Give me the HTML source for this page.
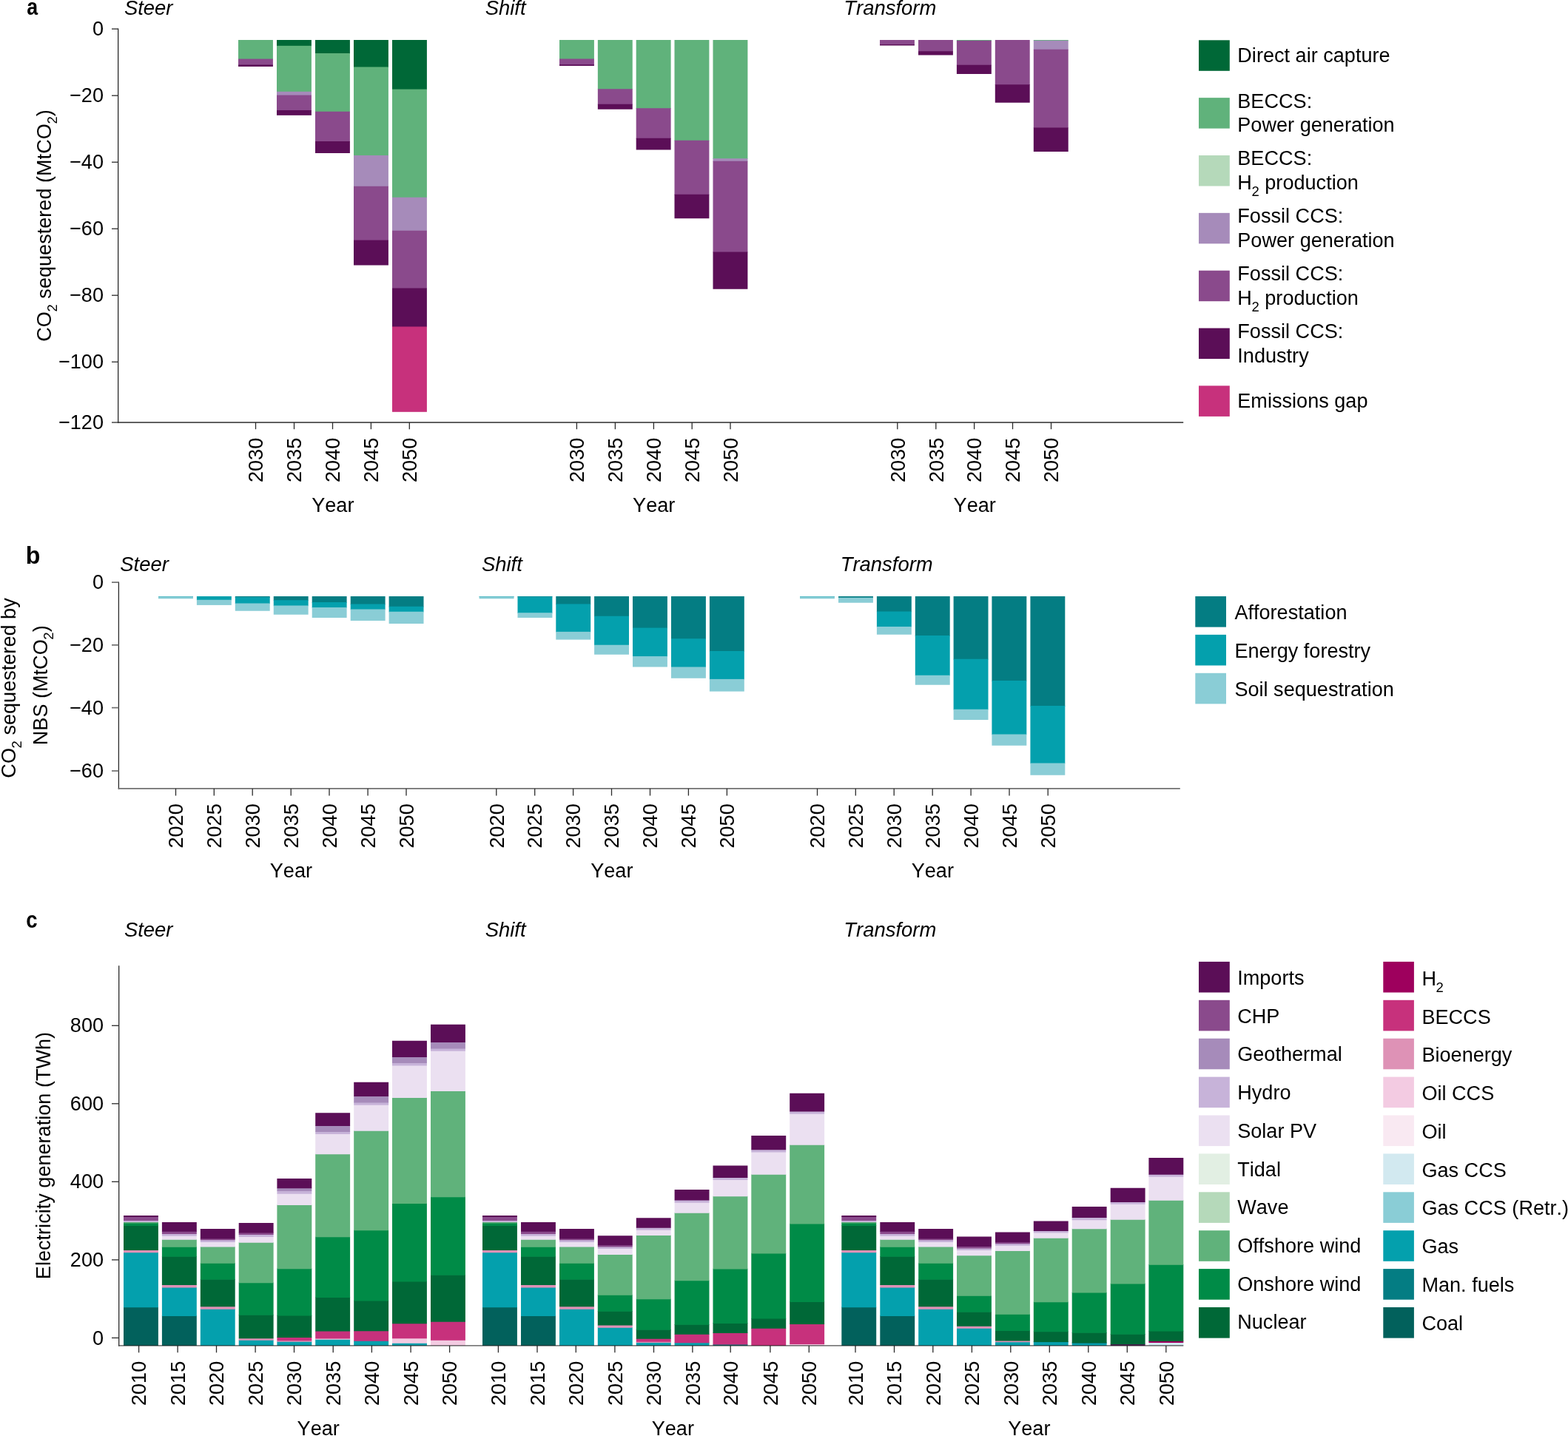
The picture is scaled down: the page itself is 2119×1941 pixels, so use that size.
<!DOCTYPE html>
<html lang="en">
<head>
<meta charset="utf-8">
<title>CO2 sequestration and electricity generation by scenario</title>
<style>
html,body{margin:0;padding:0;background:#fff;}
body{width:2119px;height:1941px;overflow:hidden;}
svg{display:block;}
text{font-family:"Liberation Sans", Arial, Helvetica, sans-serif;font-size:27.1px;fill:#000;font-kerning:none;}
.i{font-style:italic;font-size:27.45px;}
.b{font-weight:bold;}
</style>
</head>
<body>
<svg width="2119" height="1941" viewBox="0 0 2119 1941">
<rect x="0" y="0" width="2119" height="1941" fill="#ffffff"/>
<line x1="159.65" y1="38.45" x2="159.65" y2="571.65" stroke="#2b2b2b" stroke-width="1.3"/>
<line x1="159.00" y1="571.00" x2="1599.20" y2="571.00" stroke="#2b2b2b" stroke-width="1.3"/>
<line x1="151.00" y1="39.10" x2="159.65" y2="39.10" stroke="#2b2b2b" stroke-width="1.3"/>
<text transform="translate(140.00 48.20) scale(1 1.04)" text-anchor="end">0</text>
<line x1="151.00" y1="129.20" x2="159.65" y2="129.20" stroke="#2b2b2b" stroke-width="1.3"/>
<text transform="translate(140.00 138.30) scale(1 1.04)" text-anchor="end">−20</text>
<line x1="151.00" y1="219.20" x2="159.65" y2="219.20" stroke="#2b2b2b" stroke-width="1.3"/>
<text transform="translate(140.00 228.30) scale(1 1.04)" text-anchor="end">−40</text>
<line x1="151.00" y1="309.20" x2="159.65" y2="309.20" stroke="#2b2b2b" stroke-width="1.3"/>
<text transform="translate(140.00 318.30) scale(1 1.04)" text-anchor="end">−60</text>
<line x1="151.00" y1="399.20" x2="159.65" y2="399.20" stroke="#2b2b2b" stroke-width="1.3"/>
<text transform="translate(140.00 408.30) scale(1 1.04)" text-anchor="end">−80</text>
<line x1="151.00" y1="489.20" x2="159.65" y2="489.20" stroke="#2b2b2b" stroke-width="1.3"/>
<text transform="translate(140.00 498.30) scale(1 1.04)" text-anchor="end">−100</text>
<line x1="151.00" y1="571.00" x2="159.65" y2="571.00" stroke="#2b2b2b" stroke-width="1.3"/>
<text transform="translate(140.00 580.10) scale(1 1.04)" text-anchor="end">−120</text>
<text transform="translate(36.30 19.90) scale(0.85 1)" style="font-weight:bold;font-size:31.5px">a</text>
<text transform="translate(167.90 20.20) scale(1 1.025)" class="i">Steer</text>
<text transform="translate(655.70 20.20) scale(1 1.025)" class="i">Shift</text>
<text transform="translate(1140.30 20.20) scale(1 1.025)" class="i">Transform</text>
<text transform="translate(68.50 305.00) rotate(-90) scale(1 1.025)" text-anchor="middle">CO<tspan style="font-size:18.5px" dx="-0.4" dy="7.9">2</tspan><tspan dy="-7.9"> sequestered (MtCO</tspan><tspan style="font-size:18.5px" dx="-0.4" dy="7.9">2</tspan><tspan dy="-7.9">)</tspan></text>
<rect x="322.00" y="54.00" width="46.90" height="26.30" fill="#60B27B"/>
<rect x="322.00" y="79.60" width="46.90" height="8.60" fill="#8A4A8C"/>
<rect x="322.00" y="87.50" width="46.90" height="2.50" fill="#5B0E57"/>
<rect x="374.00" y="54.00" width="46.90" height="8.55" fill="#006837"/>
<rect x="374.00" y="61.85" width="46.90" height="62.65" fill="#60B27B"/>
<rect x="374.00" y="123.80" width="46.90" height="5.50" fill="#A68BBA"/>
<rect x="374.00" y="128.60" width="46.90" height="21.10" fill="#8A4A8C"/>
<rect x="374.00" y="149.00" width="46.90" height="6.85" fill="#5B0E57"/>
<rect x="426.00" y="54.00" width="46.90" height="18.70" fill="#006837"/>
<rect x="426.00" y="72.00" width="46.90" height="79.45" fill="#60B27B"/>
<rect x="426.00" y="150.75" width="46.90" height="40.95" fill="#8A4A8C"/>
<rect x="426.00" y="191.00" width="46.90" height="16.00" fill="#5B0E57"/>
<rect x="478.00" y="54.00" width="46.90" height="37.20" fill="#006837"/>
<rect x="478.00" y="90.50" width="46.90" height="120.20" fill="#60B27B"/>
<rect x="478.00" y="210.00" width="46.90" height="42.45" fill="#A68BBA"/>
<rect x="478.00" y="251.75" width="46.90" height="73.55" fill="#8A4A8C"/>
<rect x="478.00" y="324.60" width="46.90" height="33.90" fill="#5B0E57"/>
<rect x="530.00" y="54.00" width="46.90" height="67.30" fill="#006837"/>
<rect x="530.00" y="120.60" width="46.90" height="146.85" fill="#60B27B"/>
<rect x="530.00" y="266.75" width="46.90" height="45.70" fill="#A68BBA"/>
<rect x="530.00" y="311.75" width="46.90" height="78.45" fill="#8A4A8C"/>
<rect x="530.00" y="389.50" width="46.90" height="52.70" fill="#5B0E57"/>
<rect x="530.00" y="441.50" width="46.90" height="115.30" fill="#C7317C"/>
<line x1="345.50" y1="571.00" x2="345.50" y2="580.20" stroke="#2b2b2b" stroke-width="1.3"/>
<text transform="translate(355.20 652.00) rotate(-90) scale(1 1.04)">2030</text>
<line x1="397.50" y1="571.00" x2="397.50" y2="580.20" stroke="#2b2b2b" stroke-width="1.3"/>
<text transform="translate(407.20 652.00) rotate(-90) scale(1 1.04)">2035</text>
<line x1="449.50" y1="571.00" x2="449.50" y2="580.20" stroke="#2b2b2b" stroke-width="1.3"/>
<text transform="translate(459.20 652.00) rotate(-90) scale(1 1.04)">2040</text>
<line x1="501.40" y1="571.00" x2="501.40" y2="580.20" stroke="#2b2b2b" stroke-width="1.3"/>
<text transform="translate(511.10 652.00) rotate(-90) scale(1 1.04)">2045</text>
<line x1="553.30" y1="571.00" x2="553.30" y2="580.20" stroke="#2b2b2b" stroke-width="1.3"/>
<text transform="translate(563.00 652.00) rotate(-90) scale(1 1.04)">2050</text>
<text transform="translate(449.80 691.60) scale(1 1.025)" text-anchor="middle">Year</text>
<rect x="756.00" y="54.00" width="46.90" height="26.20" fill="#60B27B"/>
<rect x="756.00" y="79.50" width="46.90" height="8.45" fill="#8A4A8C"/>
<rect x="756.00" y="87.25" width="46.90" height="1.75" fill="#5B0E57"/>
<rect x="807.85" y="54.00" width="46.90" height="66.95" fill="#60B27B"/>
<rect x="807.85" y="120.25" width="46.90" height="21.20" fill="#8A4A8C"/>
<rect x="807.85" y="140.75" width="46.90" height="7.00" fill="#5B0E57"/>
<rect x="859.70" y="54.00" width="46.90" height="92.95" fill="#60B27B"/>
<rect x="859.70" y="146.25" width="46.90" height="41.20" fill="#8A4A8C"/>
<rect x="859.70" y="186.75" width="46.90" height="15.75" fill="#5B0E57"/>
<rect x="911.50" y="54.00" width="46.90" height="136.45" fill="#60B27B"/>
<rect x="911.50" y="189.75" width="46.90" height="73.70" fill="#8A4A8C"/>
<rect x="911.50" y="262.75" width="46.90" height="32.50" fill="#5B0E57"/>
<rect x="963.50" y="54.00" width="46.90" height="160.95" fill="#60B27B"/>
<rect x="963.50" y="214.25" width="46.90" height="4.20" fill="#A68BBA"/>
<rect x="963.50" y="217.75" width="46.90" height="123.45" fill="#8A4A8C"/>
<rect x="963.50" y="340.50" width="46.90" height="50.25" fill="#5B0E57"/>
<line x1="779.40" y1="571.00" x2="779.40" y2="580.20" stroke="#2b2b2b" stroke-width="1.3"/>
<text transform="translate(789.10 652.00) rotate(-90) scale(1 1.04)">2030</text>
<line x1="831.40" y1="571.00" x2="831.40" y2="580.20" stroke="#2b2b2b" stroke-width="1.3"/>
<text transform="translate(841.10 652.00) rotate(-90) scale(1 1.04)">2035</text>
<line x1="883.40" y1="571.00" x2="883.40" y2="580.20" stroke="#2b2b2b" stroke-width="1.3"/>
<text transform="translate(893.10 652.00) rotate(-90) scale(1 1.04)">2040</text>
<line x1="935.20" y1="571.00" x2="935.20" y2="580.20" stroke="#2b2b2b" stroke-width="1.3"/>
<text transform="translate(944.90 652.00) rotate(-90) scale(1 1.04)">2045</text>
<line x1="987.00" y1="571.00" x2="987.00" y2="580.20" stroke="#2b2b2b" stroke-width="1.3"/>
<text transform="translate(996.70 652.00) rotate(-90) scale(1 1.04)">2050</text>
<text transform="translate(883.70 691.60) scale(1 1.025)" text-anchor="middle">Year</text>
<rect x="1189.00" y="54.00" width="46.90" height="6.70" fill="#8A4A8C"/>
<rect x="1189.00" y="60.00" width="46.90" height="1.50" fill="#5B0E57"/>
<rect x="1241.00" y="54.00" width="46.90" height="15.95" fill="#8A4A8C"/>
<rect x="1241.00" y="69.25" width="46.90" height="5.25" fill="#5B0E57"/>
<rect x="1292.90" y="54.00" width="46.90" height="1.50" fill="#60B27B"/>
<rect x="1292.90" y="54.80" width="46.90" height="33.65" fill="#8A4A8C"/>
<rect x="1292.90" y="87.75" width="46.90" height="12.25" fill="#5B0E57"/>
<rect x="1344.80" y="54.00" width="46.90" height="60.95" fill="#8A4A8C"/>
<rect x="1344.80" y="114.25" width="46.90" height="24.50" fill="#5B0E57"/>
<rect x="1396.80" y="54.00" width="46.90" height="1.50" fill="#60B27B"/>
<rect x="1396.80" y="54.80" width="46.90" height="12.65" fill="#A68BBA"/>
<rect x="1396.80" y="66.75" width="46.90" height="106.45" fill="#8A4A8C"/>
<rect x="1396.80" y="172.50" width="46.90" height="32.50" fill="#5B0E57"/>
<line x1="1212.80" y1="571.00" x2="1212.80" y2="580.20" stroke="#2b2b2b" stroke-width="1.3"/>
<text transform="translate(1222.50 652.00) rotate(-90) scale(1 1.04)">2030</text>
<line x1="1264.80" y1="571.00" x2="1264.80" y2="580.20" stroke="#2b2b2b" stroke-width="1.3"/>
<text transform="translate(1274.50 652.00) rotate(-90) scale(1 1.04)">2035</text>
<line x1="1316.60" y1="571.00" x2="1316.60" y2="580.20" stroke="#2b2b2b" stroke-width="1.3"/>
<text transform="translate(1326.30 652.00) rotate(-90) scale(1 1.04)">2040</text>
<line x1="1368.50" y1="571.00" x2="1368.50" y2="580.20" stroke="#2b2b2b" stroke-width="1.3"/>
<text transform="translate(1378.20 652.00) rotate(-90) scale(1 1.04)">2045</text>
<line x1="1420.50" y1="571.00" x2="1420.50" y2="580.20" stroke="#2b2b2b" stroke-width="1.3"/>
<text transform="translate(1430.20 652.00) rotate(-90) scale(1 1.04)">2050</text>
<text transform="translate(1317.20 691.60) scale(1 1.025)" text-anchor="middle">Year</text>
<rect x="1620.00" y="54.30" width="41.80" height="41.50" fill="#006837"/>
<text transform="translate(1672.30 83.90) scale(1 1.025)">Direct air capture</text>
<rect x="1620.00" y="132.15" width="41.80" height="41.50" fill="#60B27B"/>
<text transform="translate(1672.30 145.55) scale(1 1.025)">BECCS:</text>
<text transform="translate(1672.30 178.25) scale(1 1.025)">Power generation</text>
<rect x="1620.00" y="210.00" width="41.80" height="41.50" fill="#B5D9BA"/>
<text transform="translate(1672.30 223.40) scale(1 1.025)">BECCS:</text>
<text transform="translate(1672.30 256.10) scale(1 1.025)">H<tspan style="font-size:18.5px" dx="-0.4" dy="8.6">2</tspan><tspan dy="-8.6"> production</tspan></text>
<rect x="1620.00" y="287.85" width="41.80" height="41.50" fill="#A68BBA"/>
<text transform="translate(1672.30 301.25) scale(1 1.025)">Fossil CCS:</text>
<text transform="translate(1672.30 333.95) scale(1 1.025)">Power generation</text>
<rect x="1620.00" y="365.70" width="41.80" height="41.50" fill="#8A4A8C"/>
<text transform="translate(1672.30 379.10) scale(1 1.025)">Fossil CCS:</text>
<text transform="translate(1672.30 411.80) scale(1 1.025)">H<tspan style="font-size:18.5px" dx="-0.4" dy="8.6">2</tspan><tspan dy="-8.6"> production</tspan></text>
<rect x="1620.00" y="443.55" width="41.80" height="41.50" fill="#5B0E57"/>
<text transform="translate(1672.30 456.95) scale(1 1.025)">Fossil CCS:</text>
<text transform="translate(1672.30 489.65) scale(1 1.025)">Industry</text>
<rect x="1620.00" y="521.40" width="41.80" height="41.50" fill="#C7317C"/>
<text transform="translate(1672.30 551.00) scale(1 1.025)">Emissions gap</text>
<line x1="160.40" y1="786.45" x2="160.40" y2="1066.80" stroke="#2b2b2b" stroke-width="1.3"/>
<line x1="159.75" y1="1065.90" x2="1594.80" y2="1065.90" stroke="#707070" stroke-width="1.8"/>
<line x1="151.00" y1="787.10" x2="160.40" y2="787.10" stroke="#707070" stroke-width="1.7"/>
<text transform="translate(140.00 796.20) scale(1 1.04)" text-anchor="end">0</text>
<line x1="151.00" y1="871.85" x2="160.40" y2="871.85" stroke="#707070" stroke-width="1.7"/>
<text transform="translate(140.00 880.95) scale(1 1.04)" text-anchor="end">−20</text>
<line x1="151.00" y1="956.60" x2="160.40" y2="956.60" stroke="#707070" stroke-width="1.7"/>
<text transform="translate(140.00 965.70) scale(1 1.04)" text-anchor="end">−40</text>
<line x1="151.00" y1="1042.00" x2="160.40" y2="1042.00" stroke="#707070" stroke-width="1.7"/>
<text transform="translate(140.00 1051.10) scale(1 1.04)" text-anchor="end">−60</text>
<text transform="translate(34.80 761.70) scale(0.96 1)" style="font-weight:bold;font-size:33.5px">b</text>
<text transform="translate(162.30 772.00) scale(1 1.025)" class="i">Steer</text>
<text transform="translate(650.90 772.00) scale(1 1.025)" class="i">Shift</text>
<text transform="translate(1135.70 772.00) scale(1 1.025)" class="i">Transform</text>
<text transform="translate(20.60 930.00) rotate(-90) scale(1 1.025)" text-anchor="middle">CO<tspan style="font-size:18.5px" dx="-0.4" dy="7.9">2</tspan><tspan dy="-7.9"> sequestered by</tspan></text>
<text transform="translate(64.10 926.30) rotate(-90) scale(1 1.025)" text-anchor="middle">NBS (MtCO<tspan style="font-size:18.5px" dx="-0.4" dy="7.9">2</tspan><tspan dy="-7.9">)</tspan></text>
<rect x="214.00" y="806.00" width="46.90" height="1.05" fill="#04A0AD"/>
<rect x="214.00" y="806.35" width="46.90" height="2.95" fill="#8ACDD6"/>
<rect x="265.90" y="806.00" width="46.90" height="5.45" fill="#04A0AD"/>
<rect x="265.90" y="810.75" width="46.90" height="7.15" fill="#8ACDD6"/>
<rect x="317.80" y="806.00" width="46.90" height="1.70" fill="#047D83"/>
<rect x="317.80" y="807.00" width="46.90" height="9.20" fill="#04A0AD"/>
<rect x="317.80" y="815.50" width="46.90" height="10.25" fill="#8ACDD6"/>
<rect x="369.75" y="806.00" width="46.90" height="5.95" fill="#047D83"/>
<rect x="369.75" y="811.25" width="46.90" height="7.95" fill="#04A0AD"/>
<rect x="369.75" y="818.50" width="46.90" height="12.25" fill="#8ACDD6"/>
<rect x="421.70" y="806.00" width="46.90" height="8.70" fill="#047D83"/>
<rect x="421.70" y="814.00" width="46.90" height="7.70" fill="#04A0AD"/>
<rect x="421.70" y="821.00" width="46.90" height="14.00" fill="#8ACDD6"/>
<rect x="473.70" y="806.00" width="46.90" height="11.20" fill="#047D83"/>
<rect x="473.70" y="816.50" width="46.90" height="7.70" fill="#04A0AD"/>
<rect x="473.70" y="823.50" width="46.90" height="15.50" fill="#8ACDD6"/>
<rect x="525.60" y="806.00" width="46.90" height="14.45" fill="#047D83"/>
<rect x="525.60" y="819.75" width="46.90" height="7.70" fill="#04A0AD"/>
<rect x="525.60" y="826.75" width="46.90" height="16.25" fill="#8ACDD6"/>
<line x1="237.50" y1="1065.90" x2="237.50" y2="1075.50" stroke="#2b2b2b" stroke-width="1.3"/>
<text transform="translate(247.20 1146.50) rotate(-90) scale(1 1.04)">2020</text>
<line x1="289.30" y1="1065.90" x2="289.30" y2="1075.50" stroke="#2b2b2b" stroke-width="1.3"/>
<text transform="translate(299.00 1146.50) rotate(-90) scale(1 1.04)">2025</text>
<line x1="341.20" y1="1065.90" x2="341.20" y2="1075.50" stroke="#2b2b2b" stroke-width="1.3"/>
<text transform="translate(350.90 1146.50) rotate(-90) scale(1 1.04)">2030</text>
<line x1="393.20" y1="1065.90" x2="393.20" y2="1075.50" stroke="#2b2b2b" stroke-width="1.3"/>
<text transform="translate(402.90 1146.50) rotate(-90) scale(1 1.04)">2035</text>
<line x1="445.00" y1="1065.90" x2="445.00" y2="1075.50" stroke="#2b2b2b" stroke-width="1.3"/>
<text transform="translate(454.70 1146.50) rotate(-90) scale(1 1.04)">2040</text>
<line x1="497.10" y1="1065.90" x2="497.10" y2="1075.50" stroke="#2b2b2b" stroke-width="1.3"/>
<text transform="translate(506.80 1146.50) rotate(-90) scale(1 1.04)">2045</text>
<line x1="549.00" y1="1065.90" x2="549.00" y2="1075.50" stroke="#2b2b2b" stroke-width="1.3"/>
<text transform="translate(558.70 1146.50) rotate(-90) scale(1 1.04)">2050</text>
<text transform="translate(393.40 1186.20) scale(1 1.025)" text-anchor="middle">Year</text>
<rect x="647.60" y="806.00" width="46.90" height="1.05" fill="#04A0AD"/>
<rect x="647.60" y="806.35" width="46.90" height="2.95" fill="#8ACDD6"/>
<rect x="699.50" y="806.00" width="46.90" height="1.20" fill="#047D83"/>
<rect x="699.50" y="806.50" width="46.90" height="22.45" fill="#04A0AD"/>
<rect x="699.50" y="828.25" width="46.90" height="6.75" fill="#8ACDD6"/>
<rect x="751.30" y="806.00" width="46.90" height="11.10" fill="#047D83"/>
<rect x="751.30" y="816.40" width="46.90" height="38.20" fill="#04A0AD"/>
<rect x="751.30" y="853.90" width="46.90" height="10.70" fill="#8ACDD6"/>
<rect x="803.10" y="806.00" width="46.90" height="27.45" fill="#047D83"/>
<rect x="803.10" y="832.75" width="46.90" height="39.70" fill="#04A0AD"/>
<rect x="803.10" y="871.75" width="46.90" height="13.00" fill="#8ACDD6"/>
<rect x="855.00" y="806.00" width="46.90" height="43.30" fill="#047D83"/>
<rect x="855.00" y="848.60" width="46.90" height="39.20" fill="#04A0AD"/>
<rect x="855.00" y="887.10" width="46.90" height="14.40" fill="#8ACDD6"/>
<rect x="907.00" y="806.00" width="46.90" height="57.95" fill="#047D83"/>
<rect x="907.00" y="863.25" width="46.90" height="38.95" fill="#04A0AD"/>
<rect x="907.00" y="901.50" width="46.90" height="15.25" fill="#8ACDD6"/>
<rect x="958.90" y="806.00" width="46.90" height="74.70" fill="#047D83"/>
<rect x="958.90" y="880.00" width="46.90" height="38.60" fill="#04A0AD"/>
<rect x="958.90" y="917.90" width="46.90" height="16.70" fill="#8ACDD6"/>
<line x1="670.80" y1="1065.90" x2="670.80" y2="1075.50" stroke="#2b2b2b" stroke-width="1.3"/>
<text transform="translate(680.50 1146.50) rotate(-90) scale(1 1.04)">2020</text>
<line x1="722.70" y1="1065.90" x2="722.70" y2="1075.50" stroke="#2b2b2b" stroke-width="1.3"/>
<text transform="translate(732.40 1146.50) rotate(-90) scale(1 1.04)">2025</text>
<line x1="774.60" y1="1065.90" x2="774.60" y2="1075.50" stroke="#2b2b2b" stroke-width="1.3"/>
<text transform="translate(784.30 1146.50) rotate(-90) scale(1 1.04)">2030</text>
<line x1="826.50" y1="1065.90" x2="826.50" y2="1075.50" stroke="#2b2b2b" stroke-width="1.3"/>
<text transform="translate(836.20 1146.50) rotate(-90) scale(1 1.04)">2035</text>
<line x1="878.50" y1="1065.90" x2="878.50" y2="1075.50" stroke="#2b2b2b" stroke-width="1.3"/>
<text transform="translate(888.20 1146.50) rotate(-90) scale(1 1.04)">2040</text>
<line x1="930.40" y1="1065.90" x2="930.40" y2="1075.50" stroke="#2b2b2b" stroke-width="1.3"/>
<text transform="translate(940.10 1146.50) rotate(-90) scale(1 1.04)">2045</text>
<line x1="982.40" y1="1065.90" x2="982.40" y2="1075.50" stroke="#2b2b2b" stroke-width="1.3"/>
<text transform="translate(992.10 1146.50) rotate(-90) scale(1 1.04)">2050</text>
<text transform="translate(826.80 1186.20) scale(1 1.025)" text-anchor="middle">Year</text>
<rect x="1081.00" y="806.00" width="46.90" height="1.05" fill="#04A0AD"/>
<rect x="1081.00" y="806.35" width="46.90" height="2.95" fill="#8ACDD6"/>
<rect x="1133.00" y="806.00" width="46.90" height="2.45" fill="#047D83"/>
<rect x="1133.00" y="807.75" width="46.90" height="7.00" fill="#8ACDD6"/>
<rect x="1184.90" y="806.00" width="46.90" height="21.20" fill="#047D83"/>
<rect x="1184.90" y="826.50" width="46.90" height="21.20" fill="#04A0AD"/>
<rect x="1184.90" y="847.00" width="46.90" height="10.75" fill="#8ACDD6"/>
<rect x="1236.80" y="806.00" width="46.90" height="53.70" fill="#047D83"/>
<rect x="1236.80" y="859.00" width="46.90" height="54.45" fill="#04A0AD"/>
<rect x="1236.80" y="912.75" width="46.90" height="13.00" fill="#8ACDD6"/>
<rect x="1288.60" y="806.00" width="46.90" height="85.45" fill="#047D83"/>
<rect x="1288.60" y="890.75" width="46.90" height="68.70" fill="#04A0AD"/>
<rect x="1288.60" y="958.75" width="46.90" height="14.25" fill="#8ACDD6"/>
<rect x="1340.40" y="806.00" width="46.90" height="114.70" fill="#047D83"/>
<rect x="1340.40" y="920.00" width="46.90" height="73.20" fill="#04A0AD"/>
<rect x="1340.40" y="992.50" width="46.90" height="15.25" fill="#8ACDD6"/>
<rect x="1392.40" y="806.00" width="46.90" height="148.70" fill="#047D83"/>
<rect x="1392.40" y="954.00" width="46.90" height="78.20" fill="#04A0AD"/>
<rect x="1392.40" y="1031.50" width="46.90" height="16.25" fill="#8ACDD6"/>
<line x1="1104.50" y1="1065.90" x2="1104.50" y2="1075.50" stroke="#2b2b2b" stroke-width="1.3"/>
<text transform="translate(1114.20 1146.50) rotate(-90) scale(1 1.04)">2020</text>
<line x1="1156.30" y1="1065.90" x2="1156.30" y2="1075.50" stroke="#2b2b2b" stroke-width="1.3"/>
<text transform="translate(1166.00 1146.50) rotate(-90) scale(1 1.04)">2025</text>
<line x1="1208.20" y1="1065.90" x2="1208.20" y2="1075.50" stroke="#2b2b2b" stroke-width="1.3"/>
<text transform="translate(1217.90 1146.50) rotate(-90) scale(1 1.04)">2030</text>
<line x1="1260.20" y1="1065.90" x2="1260.20" y2="1075.50" stroke="#2b2b2b" stroke-width="1.3"/>
<text transform="translate(1269.90 1146.50) rotate(-90) scale(1 1.04)">2035</text>
<line x1="1312.10" y1="1065.90" x2="1312.10" y2="1075.50" stroke="#2b2b2b" stroke-width="1.3"/>
<text transform="translate(1321.80 1146.50) rotate(-90) scale(1 1.04)">2040</text>
<line x1="1364.00" y1="1065.90" x2="1364.00" y2="1075.50" stroke="#2b2b2b" stroke-width="1.3"/>
<text transform="translate(1373.70 1146.50) rotate(-90) scale(1 1.04)">2045</text>
<line x1="1416.20" y1="1065.90" x2="1416.20" y2="1075.50" stroke="#2b2b2b" stroke-width="1.3"/>
<text transform="translate(1425.90 1146.50) rotate(-90) scale(1 1.04)">2050</text>
<text transform="translate(1260.30 1186.20) scale(1 1.025)" text-anchor="middle">Year</text>
<rect x="1615.30" y="806.00" width="41.70" height="41.60" fill="#047D83"/>
<text transform="translate(1668.40 836.70) scale(1 1.025)">Afforestation</text>
<rect x="1615.30" y="857.90" width="41.70" height="41.60" fill="#04A0AD"/>
<text transform="translate(1668.40 888.70) scale(1 1.025)">Energy forestry</text>
<rect x="1615.30" y="909.80" width="41.70" height="41.60" fill="#8ACDD6"/>
<text transform="translate(1668.40 940.70) scale(1 1.025)">Soil sequestration</text>
<text transform="translate(35.30 1254.40) scale(0.86 1)" style="font-weight:bold;font-size:32px">c</text>
<text transform="translate(167.90 1266.30) scale(1 1.025)" class="i">Steer</text>
<text transform="translate(655.70 1266.30) scale(1 1.025)" class="i">Shift</text>
<text transform="translate(1140.30 1266.30) scale(1 1.025)" class="i">Transform</text>
<text transform="translate(68.20 1562.00) rotate(-90) scale(1 1.025)" text-anchor="middle">Electricity generation (TWh)</text>
<rect x="167.00" y="1766.55" width="46.90" height="52.45" fill="#02615C"/>
<rect x="167.00" y="1692.55" width="46.90" height="74.70" fill="#04A0AD"/>
<rect x="167.00" y="1689.30" width="46.90" height="3.95" fill="#DE92B6"/>
<rect x="167.00" y="1656.30" width="46.90" height="33.70" fill="#006837"/>
<rect x="167.00" y="1652.80" width="46.90" height="4.20" fill="#008B47"/>
<rect x="167.00" y="1651.30" width="46.90" height="2.20" fill="#60B27B"/>
<rect x="167.00" y="1649.30" width="46.90" height="2.70" fill="#C7B3D9"/>
<rect x="167.00" y="1644.30" width="46.90" height="5.70" fill="#8A4A8C"/>
<rect x="167.00" y="1643.00" width="46.90" height="2.00" fill="#5B0E57"/>
<rect x="218.90" y="1778.30" width="46.90" height="40.70" fill="#02615C"/>
<rect x="218.90" y="1739.80" width="46.90" height="39.20" fill="#04A0AD"/>
<rect x="218.90" y="1736.30" width="46.90" height="4.20" fill="#DE92B6"/>
<rect x="218.90" y="1698.05" width="46.90" height="38.95" fill="#006837"/>
<rect x="218.90" y="1685.05" width="46.90" height="13.70" fill="#008B47"/>
<rect x="218.90" y="1675.05" width="46.90" height="10.70" fill="#60B27B"/>
<rect x="218.90" y="1670.05" width="46.90" height="5.70" fill="#EBE0F1"/>
<rect x="218.90" y="1667.30" width="46.90" height="3.45" fill="#C7B3D9"/>
<rect x="218.90" y="1664.05" width="46.90" height="3.95" fill="#8A4A8C"/>
<rect x="218.90" y="1652.00" width="46.90" height="12.75" fill="#5B0E57"/>
<rect x="270.80" y="1769.05" width="46.90" height="49.95" fill="#04A0AD"/>
<rect x="270.80" y="1765.55" width="46.90" height="4.20" fill="#DE92B6"/>
<rect x="270.80" y="1729.05" width="46.90" height="37.20" fill="#006837"/>
<rect x="270.80" y="1707.05" width="46.90" height="22.70" fill="#008B47"/>
<rect x="270.80" y="1684.80" width="46.90" height="22.95" fill="#60B27B"/>
<rect x="270.80" y="1678.30" width="46.90" height="7.20" fill="#EBE0F1"/>
<rect x="270.80" y="1675.55" width="46.90" height="3.45" fill="#C7B3D9"/>
<rect x="270.80" y="1673.80" width="46.90" height="2.45" fill="#8A4A8C"/>
<rect x="270.80" y="1661.00" width="46.90" height="13.50" fill="#5B0E57"/>
<rect x="322.70" y="1811.05" width="46.90" height="7.95" fill="#04A0AD"/>
<rect x="322.70" y="1808.55" width="46.90" height="3.20" fill="#DE92B6"/>
<rect x="322.70" y="1777.05" width="46.90" height="32.20" fill="#006837"/>
<rect x="322.70" y="1733.55" width="46.90" height="44.20" fill="#008B47"/>
<rect x="322.70" y="1679.05" width="46.90" height="55.20" fill="#60B27B"/>
<rect x="322.70" y="1671.30" width="46.90" height="8.45" fill="#EBE0F1"/>
<rect x="322.70" y="1668.30" width="46.90" height="3.70" fill="#C7B3D9"/>
<rect x="322.70" y="1665.80" width="46.90" height="3.20" fill="#8A4A8C"/>
<rect x="322.70" y="1653.00" width="46.90" height="13.50" fill="#5B0E57"/>
<rect x="374.40" y="1813.05" width="46.90" height="5.95" fill="#04A0AD"/>
<rect x="374.40" y="1811.55" width="46.90" height="2.20" fill="#DE92B6"/>
<rect x="374.40" y="1807.30" width="46.90" height="4.95" fill="#C7317C"/>
<rect x="374.40" y="1777.80" width="46.90" height="30.20" fill="#006837"/>
<rect x="374.40" y="1714.55" width="46.90" height="63.95" fill="#008B47"/>
<rect x="374.40" y="1628.30" width="46.90" height="86.95" fill="#60B27B"/>
<rect x="374.40" y="1613.05" width="46.90" height="15.95" fill="#EBE0F1"/>
<rect x="374.40" y="1609.30" width="46.90" height="4.45" fill="#C7B3D9"/>
<rect x="374.40" y="1605.55" width="46.90" height="4.45" fill="#A68BBA"/>
<rect x="374.40" y="1593.00" width="46.90" height="13.25" fill="#5B0E57"/>
<rect x="426.20" y="1810.05" width="46.90" height="8.95" fill="#04A0AD"/>
<rect x="426.20" y="1808.80" width="46.90" height="1.95" fill="#F3CBE2"/>
<rect x="426.20" y="1798.80" width="46.90" height="10.70" fill="#C7317C"/>
<rect x="426.20" y="1753.30" width="46.90" height="46.20" fill="#006837"/>
<rect x="426.20" y="1671.55" width="46.90" height="82.45" fill="#008B47"/>
<rect x="426.20" y="1559.55" width="46.90" height="112.70" fill="#60B27B"/>
<rect x="426.20" y="1532.30" width="46.90" height="27.95" fill="#EBE0F1"/>
<rect x="426.20" y="1529.30" width="46.90" height="3.70" fill="#C7B3D9"/>
<rect x="426.20" y="1521.30" width="46.90" height="8.70" fill="#A68BBA"/>
<rect x="426.20" y="1504.25" width="46.90" height="17.75" fill="#5B0E57"/>
<rect x="478.20" y="1812.05" width="46.90" height="6.95" fill="#04A0AD"/>
<rect x="478.20" y="1798.55" width="46.90" height="14.20" fill="#C7317C"/>
<rect x="478.20" y="1757.80" width="46.90" height="41.45" fill="#006837"/>
<rect x="478.20" y="1662.55" width="46.90" height="95.95" fill="#008B47"/>
<rect x="478.20" y="1528.05" width="46.90" height="135.20" fill="#60B27B"/>
<rect x="478.20" y="1493.05" width="46.90" height="35.70" fill="#EBE0F1"/>
<rect x="478.20" y="1489.80" width="46.90" height="3.95" fill="#C7B3D9"/>
<rect x="478.20" y="1481.30" width="46.90" height="9.20" fill="#A68BBA"/>
<rect x="478.20" y="1462.75" width="46.90" height="19.25" fill="#5B0E57"/>
<rect x="530.00" y="1815.05" width="46.90" height="3.95" fill="#04A0AD"/>
<rect x="530.00" y="1808.55" width="46.90" height="7.20" fill="#F3CBE2"/>
<rect x="530.00" y="1788.55" width="46.90" height="20.70" fill="#C7317C"/>
<rect x="530.00" y="1731.80" width="46.90" height="57.45" fill="#006837"/>
<rect x="530.00" y="1626.30" width="46.90" height="106.20" fill="#008B47"/>
<rect x="530.00" y="1483.30" width="46.90" height="143.70" fill="#60B27B"/>
<rect x="530.00" y="1439.80" width="46.90" height="44.20" fill="#EBE0F1"/>
<rect x="530.00" y="1436.30" width="46.90" height="4.20" fill="#C7B3D9"/>
<rect x="530.00" y="1428.30" width="46.90" height="8.70" fill="#A68BBA"/>
<rect x="530.00" y="1406.75" width="46.90" height="22.25" fill="#5B0E57"/>
<rect x="582.00" y="1811.05" width="46.90" height="7.95" fill="#F3CBE2"/>
<rect x="582.00" y="1786.05" width="46.90" height="25.70" fill="#C7317C"/>
<rect x="582.00" y="1723.05" width="46.90" height="63.70" fill="#006837"/>
<rect x="582.00" y="1617.55" width="46.90" height="106.20" fill="#008B47"/>
<rect x="582.00" y="1474.30" width="46.90" height="143.95" fill="#60B27B"/>
<rect x="582.00" y="1420.05" width="46.90" height="54.95" fill="#EBE0F1"/>
<rect x="582.00" y="1416.80" width="46.90" height="3.95" fill="#C7B3D9"/>
<rect x="582.00" y="1408.30" width="46.90" height="9.20" fill="#A68BBA"/>
<rect x="582.00" y="1384.75" width="46.90" height="24.25" fill="#5B0E57"/>
<line x1="187.60" y1="1818.90" x2="187.60" y2="1828.30" stroke="#2b2b2b" stroke-width="1.3"/>
<text transform="translate(197.30 1900.00) rotate(-90) scale(1 1.04)">2010</text>
<line x1="240.10" y1="1818.90" x2="240.10" y2="1828.30" stroke="#2b2b2b" stroke-width="1.3"/>
<text transform="translate(249.80 1900.00) rotate(-90) scale(1 1.04)">2015</text>
<line x1="292.50" y1="1818.90" x2="292.50" y2="1828.30" stroke="#2b2b2b" stroke-width="1.3"/>
<text transform="translate(302.20 1900.00) rotate(-90) scale(1 1.04)">2020</text>
<line x1="345.10" y1="1818.90" x2="345.10" y2="1828.30" stroke="#2b2b2b" stroke-width="1.3"/>
<text transform="translate(354.80 1900.00) rotate(-90) scale(1 1.04)">2025</text>
<line x1="397.50" y1="1818.90" x2="397.50" y2="1828.30" stroke="#2b2b2b" stroke-width="1.3"/>
<text transform="translate(407.20 1900.00) rotate(-90) scale(1 1.04)">2030</text>
<line x1="450.20" y1="1818.90" x2="450.20" y2="1828.30" stroke="#2b2b2b" stroke-width="1.3"/>
<text transform="translate(459.90 1900.00) rotate(-90) scale(1 1.04)">2035</text>
<line x1="502.40" y1="1818.90" x2="502.40" y2="1828.30" stroke="#2b2b2b" stroke-width="1.3"/>
<text transform="translate(512.10 1900.00) rotate(-90) scale(1 1.04)">2040</text>
<line x1="555.10" y1="1818.90" x2="555.10" y2="1828.30" stroke="#2b2b2b" stroke-width="1.3"/>
<text transform="translate(564.80 1900.00) rotate(-90) scale(1 1.04)">2045</text>
<line x1="607.60" y1="1818.90" x2="607.60" y2="1828.30" stroke="#2b2b2b" stroke-width="1.3"/>
<text transform="translate(617.30 1900.00) rotate(-90) scale(1 1.04)">2050</text>
<text transform="translate(430.20 1940.00) scale(1 1.025)" text-anchor="middle">Year</text>
<rect x="652.00" y="1766.55" width="46.90" height="52.45" fill="#02615C"/>
<rect x="652.00" y="1692.55" width="46.90" height="74.70" fill="#04A0AD"/>
<rect x="652.00" y="1689.30" width="46.90" height="3.95" fill="#DE92B6"/>
<rect x="652.00" y="1656.30" width="46.90" height="33.70" fill="#006837"/>
<rect x="652.00" y="1652.80" width="46.90" height="4.20" fill="#008B47"/>
<rect x="652.00" y="1651.30" width="46.90" height="2.20" fill="#60B27B"/>
<rect x="652.00" y="1649.30" width="46.90" height="2.70" fill="#C7B3D9"/>
<rect x="652.00" y="1644.30" width="46.90" height="5.70" fill="#8A4A8C"/>
<rect x="652.00" y="1643.00" width="46.90" height="2.00" fill="#5B0E57"/>
<rect x="704.00" y="1778.30" width="46.90" height="40.70" fill="#02615C"/>
<rect x="704.00" y="1739.80" width="46.90" height="39.20" fill="#04A0AD"/>
<rect x="704.00" y="1736.30" width="46.90" height="4.20" fill="#DE92B6"/>
<rect x="704.00" y="1698.05" width="46.90" height="38.95" fill="#006837"/>
<rect x="704.00" y="1685.05" width="46.90" height="13.70" fill="#008B47"/>
<rect x="704.00" y="1675.05" width="46.90" height="10.70" fill="#60B27B"/>
<rect x="704.00" y="1670.05" width="46.90" height="5.70" fill="#EBE0F1"/>
<rect x="704.00" y="1667.30" width="46.90" height="3.45" fill="#C7B3D9"/>
<rect x="704.00" y="1664.05" width="46.90" height="3.95" fill="#8A4A8C"/>
<rect x="704.00" y="1652.00" width="46.90" height="12.75" fill="#5B0E57"/>
<rect x="756.00" y="1769.05" width="46.90" height="49.95" fill="#04A0AD"/>
<rect x="756.00" y="1765.55" width="46.90" height="4.20" fill="#DE92B6"/>
<rect x="756.00" y="1729.05" width="46.90" height="37.20" fill="#006837"/>
<rect x="756.00" y="1707.05" width="46.90" height="22.70" fill="#008B47"/>
<rect x="756.00" y="1684.80" width="46.90" height="22.95" fill="#60B27B"/>
<rect x="756.00" y="1678.30" width="46.90" height="7.20" fill="#EBE0F1"/>
<rect x="756.00" y="1675.55" width="46.90" height="3.45" fill="#C7B3D9"/>
<rect x="756.00" y="1673.80" width="46.90" height="2.45" fill="#8A4A8C"/>
<rect x="756.00" y="1661.00" width="46.90" height="13.50" fill="#5B0E57"/>
<rect x="807.80" y="1794.05" width="46.90" height="24.95" fill="#04A0AD"/>
<rect x="807.80" y="1790.80" width="46.90" height="3.95" fill="#DE92B6"/>
<rect x="807.80" y="1772.05" width="46.90" height="19.45" fill="#006837"/>
<rect x="807.80" y="1750.05" width="46.90" height="22.70" fill="#008B47"/>
<rect x="807.80" y="1695.30" width="46.90" height="55.45" fill="#60B27B"/>
<rect x="807.80" y="1687.30" width="46.90" height="8.70" fill="#EBE0F1"/>
<rect x="807.80" y="1684.80" width="46.90" height="3.20" fill="#C7B3D9"/>
<rect x="807.80" y="1682.55" width="46.90" height="2.95" fill="#8A4A8C"/>
<rect x="807.80" y="1670.25" width="46.90" height="13.00" fill="#5B0E57"/>
<rect x="859.80" y="1814.30" width="46.90" height="4.70" fill="#04A0AD"/>
<rect x="859.80" y="1813.05" width="46.90" height="1.95" fill="#DE92B6"/>
<rect x="859.80" y="1809.05" width="46.90" height="4.70" fill="#C7317C"/>
<rect x="859.80" y="1797.05" width="46.90" height="12.70" fill="#006837"/>
<rect x="859.80" y="1755.55" width="46.90" height="42.20" fill="#008B47"/>
<rect x="859.80" y="1669.30" width="46.90" height="86.95" fill="#60B27B"/>
<rect x="859.80" y="1662.05" width="46.90" height="7.95" fill="#EBE0F1"/>
<rect x="859.80" y="1659.05" width="46.90" height="3.70" fill="#C7B3D9"/>
<rect x="859.80" y="1646.25" width="46.90" height="13.50" fill="#5B0E57"/>
<rect x="911.60" y="1814.55" width="46.90" height="4.45" fill="#04A0AD"/>
<rect x="911.60" y="1803.05" width="46.90" height="12.20" fill="#C7317C"/>
<rect x="911.60" y="1790.05" width="46.90" height="13.70" fill="#006837"/>
<rect x="911.60" y="1730.55" width="46.90" height="60.20" fill="#008B47"/>
<rect x="911.60" y="1639.05" width="46.90" height="92.20" fill="#60B27B"/>
<rect x="911.60" y="1625.05" width="46.90" height="14.70" fill="#EBE0F1"/>
<rect x="911.60" y="1621.80" width="46.90" height="3.95" fill="#C7B3D9"/>
<rect x="911.60" y="1608.00" width="46.90" height="14.50" fill="#5B0E57"/>
<rect x="963.50" y="1816.80" width="46.90" height="2.20" fill="#047D83"/>
<rect x="963.50" y="1801.30" width="46.90" height="16.20" fill="#C7317C"/>
<rect x="963.50" y="1788.30" width="46.90" height="13.70" fill="#006837"/>
<rect x="963.50" y="1714.80" width="46.90" height="74.20" fill="#008B47"/>
<rect x="963.50" y="1616.55" width="46.90" height="98.95" fill="#60B27B"/>
<rect x="963.50" y="1594.30" width="46.90" height="22.95" fill="#EBE0F1"/>
<rect x="963.50" y="1591.30" width="46.90" height="3.70" fill="#C7B3D9"/>
<rect x="963.50" y="1575.50" width="46.90" height="16.50" fill="#5B0E57"/>
<rect x="1015.30" y="1795.05" width="46.90" height="23.95" fill="#C7317C"/>
<rect x="1015.30" y="1781.80" width="46.90" height="13.95" fill="#006837"/>
<rect x="1015.30" y="1693.80" width="46.90" height="88.70" fill="#008B47"/>
<rect x="1015.30" y="1587.05" width="46.90" height="107.45" fill="#60B27B"/>
<rect x="1015.30" y="1556.80" width="46.90" height="30.95" fill="#EBE0F1"/>
<rect x="1015.30" y="1553.55" width="46.90" height="3.95" fill="#C7B3D9"/>
<rect x="1015.30" y="1535.00" width="46.90" height="19.25" fill="#5B0E57"/>
<rect x="1067.20" y="1816.30" width="46.90" height="2.70" fill="#F3CBE2"/>
<rect x="1067.20" y="1789.30" width="46.90" height="27.70" fill="#C7317C"/>
<rect x="1067.20" y="1759.30" width="46.90" height="30.70" fill="#006837"/>
<rect x="1067.20" y="1653.80" width="46.90" height="106.20" fill="#008B47"/>
<rect x="1067.20" y="1547.05" width="46.90" height="107.45" fill="#60B27B"/>
<rect x="1067.20" y="1505.05" width="46.90" height="42.70" fill="#EBE0F1"/>
<rect x="1067.20" y="1501.80" width="46.90" height="3.95" fill="#C7B3D9"/>
<rect x="1067.20" y="1477.75" width="46.90" height="24.75" fill="#5B0E57"/>
<line x1="673.40" y1="1818.90" x2="673.40" y2="1828.30" stroke="#2b2b2b" stroke-width="1.3"/>
<text transform="translate(683.10 1900.00) rotate(-90) scale(1 1.04)">2010</text>
<line x1="726.00" y1="1818.90" x2="726.00" y2="1828.30" stroke="#2b2b2b" stroke-width="1.3"/>
<text transform="translate(735.70 1900.00) rotate(-90) scale(1 1.04)">2015</text>
<line x1="778.30" y1="1818.90" x2="778.30" y2="1828.30" stroke="#2b2b2b" stroke-width="1.3"/>
<text transform="translate(788.00 1900.00) rotate(-90) scale(1 1.04)">2020</text>
<line x1="830.90" y1="1818.90" x2="830.90" y2="1828.30" stroke="#2b2b2b" stroke-width="1.3"/>
<text transform="translate(840.60 1900.00) rotate(-90) scale(1 1.04)">2025</text>
<line x1="883.50" y1="1818.90" x2="883.50" y2="1828.30" stroke="#2b2b2b" stroke-width="1.3"/>
<text transform="translate(893.20 1900.00) rotate(-90) scale(1 1.04)">2030</text>
<line x1="935.90" y1="1818.90" x2="935.90" y2="1828.30" stroke="#2b2b2b" stroke-width="1.3"/>
<text transform="translate(945.60 1900.00) rotate(-90) scale(1 1.04)">2035</text>
<line x1="987.20" y1="1818.90" x2="987.20" y2="1828.30" stroke="#2b2b2b" stroke-width="1.3"/>
<text transform="translate(996.90 1900.00) rotate(-90) scale(1 1.04)">2040</text>
<line x1="1040.90" y1="1818.90" x2="1040.90" y2="1828.30" stroke="#2b2b2b" stroke-width="1.3"/>
<text transform="translate(1050.60 1900.00) rotate(-90) scale(1 1.04)">2045</text>
<line x1="1093.30" y1="1818.90" x2="1093.30" y2="1828.30" stroke="#2b2b2b" stroke-width="1.3"/>
<text transform="translate(1103.00 1900.00) rotate(-90) scale(1 1.04)">2050</text>
<text transform="translate(909.30 1940.00) scale(1 1.025)" text-anchor="middle">Year</text>
<rect x="1137.30" y="1766.55" width="46.90" height="52.45" fill="#02615C"/>
<rect x="1137.30" y="1692.55" width="46.90" height="74.70" fill="#04A0AD"/>
<rect x="1137.30" y="1689.30" width="46.90" height="3.95" fill="#DE92B6"/>
<rect x="1137.30" y="1656.30" width="46.90" height="33.70" fill="#006837"/>
<rect x="1137.30" y="1652.80" width="46.90" height="4.20" fill="#008B47"/>
<rect x="1137.30" y="1651.30" width="46.90" height="2.20" fill="#60B27B"/>
<rect x="1137.30" y="1649.30" width="46.90" height="2.70" fill="#C7B3D9"/>
<rect x="1137.30" y="1644.30" width="46.90" height="5.70" fill="#8A4A8C"/>
<rect x="1137.30" y="1643.00" width="46.90" height="2.00" fill="#5B0E57"/>
<rect x="1189.30" y="1778.30" width="46.90" height="40.70" fill="#02615C"/>
<rect x="1189.30" y="1739.80" width="46.90" height="39.20" fill="#04A0AD"/>
<rect x="1189.30" y="1736.30" width="46.90" height="4.20" fill="#DE92B6"/>
<rect x="1189.30" y="1698.05" width="46.90" height="38.95" fill="#006837"/>
<rect x="1189.30" y="1685.05" width="46.90" height="13.70" fill="#008B47"/>
<rect x="1189.30" y="1675.05" width="46.90" height="10.70" fill="#60B27B"/>
<rect x="1189.30" y="1670.05" width="46.90" height="5.70" fill="#EBE0F1"/>
<rect x="1189.30" y="1667.30" width="46.90" height="3.45" fill="#C7B3D9"/>
<rect x="1189.30" y="1664.05" width="46.90" height="3.95" fill="#8A4A8C"/>
<rect x="1189.30" y="1652.00" width="46.90" height="12.75" fill="#5B0E57"/>
<rect x="1241.20" y="1769.05" width="46.90" height="49.95" fill="#04A0AD"/>
<rect x="1241.20" y="1765.55" width="46.90" height="4.20" fill="#DE92B6"/>
<rect x="1241.20" y="1729.05" width="46.90" height="37.20" fill="#006837"/>
<rect x="1241.20" y="1707.05" width="46.90" height="22.70" fill="#008B47"/>
<rect x="1241.20" y="1684.80" width="46.90" height="22.95" fill="#60B27B"/>
<rect x="1241.20" y="1678.30" width="46.90" height="7.20" fill="#EBE0F1"/>
<rect x="1241.20" y="1675.55" width="46.90" height="3.45" fill="#C7B3D9"/>
<rect x="1241.20" y="1673.80" width="46.90" height="2.45" fill="#8A4A8C"/>
<rect x="1241.20" y="1661.00" width="46.90" height="13.50" fill="#5B0E57"/>
<rect x="1293.00" y="1795.05" width="46.90" height="23.95" fill="#04A0AD"/>
<rect x="1293.00" y="1792.05" width="46.90" height="3.70" fill="#DE92B6"/>
<rect x="1293.00" y="1773.05" width="46.90" height="19.70" fill="#006837"/>
<rect x="1293.00" y="1751.05" width="46.90" height="22.70" fill="#008B47"/>
<rect x="1293.00" y="1696.55" width="46.90" height="55.20" fill="#60B27B"/>
<rect x="1293.00" y="1689.30" width="46.90" height="7.95" fill="#EBE0F1"/>
<rect x="1293.00" y="1686.80" width="46.90" height="3.20" fill="#C7B3D9"/>
<rect x="1293.00" y="1684.30" width="46.90" height="3.20" fill="#8A4A8C"/>
<rect x="1293.00" y="1671.50" width="46.90" height="13.50" fill="#5B0E57"/>
<rect x="1345.00" y="1813.55" width="46.90" height="5.45" fill="#04A0AD"/>
<rect x="1345.00" y="1811.80" width="46.90" height="2.45" fill="#DE92B6"/>
<rect x="1345.00" y="1798.30" width="46.90" height="14.20" fill="#006837"/>
<rect x="1345.00" y="1776.05" width="46.90" height="22.95" fill="#008B47"/>
<rect x="1345.00" y="1690.30" width="46.90" height="86.45" fill="#60B27B"/>
<rect x="1345.00" y="1683.05" width="46.90" height="7.95" fill="#EBE0F1"/>
<rect x="1345.00" y="1680.55" width="46.90" height="3.20" fill="#C7B3D9"/>
<rect x="1345.00" y="1678.55" width="46.90" height="2.70" fill="#8A4A8C"/>
<rect x="1345.00" y="1665.50" width="46.90" height="13.75" fill="#5B0E57"/>
<rect x="1396.80" y="1813.55" width="46.90" height="5.45" fill="#04A0AD"/>
<rect x="1396.80" y="1813.30" width="46.90" height="0.95" fill="#047D83"/>
<rect x="1396.80" y="1799.55" width="46.90" height="14.45" fill="#006837"/>
<rect x="1396.80" y="1759.55" width="46.90" height="40.70" fill="#008B47"/>
<rect x="1396.80" y="1673.05" width="46.90" height="87.20" fill="#60B27B"/>
<rect x="1396.80" y="1665.80" width="46.90" height="7.95" fill="#EBE0F1"/>
<rect x="1396.80" y="1663.30" width="46.90" height="3.20" fill="#C7B3D9"/>
<rect x="1396.80" y="1650.50" width="46.90" height="13.50" fill="#5B0E57"/>
<rect x="1448.70" y="1815.30" width="46.90" height="3.70" fill="#04A0AD"/>
<rect x="1448.70" y="1814.55" width="46.90" height="1.45" fill="#047D83"/>
<rect x="1448.70" y="1801.05" width="46.90" height="14.20" fill="#006837"/>
<rect x="1448.70" y="1746.80" width="46.90" height="54.95" fill="#008B47"/>
<rect x="1448.70" y="1660.55" width="46.90" height="86.95" fill="#60B27B"/>
<rect x="1448.70" y="1648.55" width="46.90" height="12.70" fill="#EBE0F1"/>
<rect x="1448.70" y="1645.30" width="46.90" height="3.95" fill="#C7B3D9"/>
<rect x="1448.70" y="1631.00" width="46.90" height="15.00" fill="#5B0E57"/>
<rect x="1500.70" y="1816.55" width="46.90" height="2.45" fill="#5B0E57"/>
<rect x="1500.70" y="1803.05" width="46.90" height="14.20" fill="#006837"/>
<rect x="1500.70" y="1734.80" width="46.90" height="68.95" fill="#008B47"/>
<rect x="1500.70" y="1648.05" width="46.90" height="87.45" fill="#60B27B"/>
<rect x="1500.70" y="1627.05" width="46.90" height="21.70" fill="#EBE0F1"/>
<rect x="1500.70" y="1624.30" width="46.90" height="3.45" fill="#C7B3D9"/>
<rect x="1500.70" y="1605.75" width="46.90" height="19.25" fill="#5B0E57"/>
<rect x="1552.40" y="1814.30" width="46.90" height="4.70" fill="#D2E9F0"/>
<rect x="1552.40" y="1812.30" width="46.90" height="2.70" fill="#9E005D"/>
<rect x="1552.40" y="1798.80" width="46.90" height="14.20" fill="#006837"/>
<rect x="1552.40" y="1709.05" width="46.90" height="90.45" fill="#008B47"/>
<rect x="1552.40" y="1622.05" width="46.90" height="87.70" fill="#60B27B"/>
<rect x="1552.40" y="1590.05" width="46.90" height="32.70" fill="#EBE0F1"/>
<rect x="1552.40" y="1587.05" width="46.90" height="3.70" fill="#C7B3D9"/>
<rect x="1552.40" y="1565.00" width="46.90" height="22.75" fill="#5B0E57"/>
<line x1="1156.00" y1="1818.90" x2="1156.00" y2="1828.30" stroke="#2b2b2b" stroke-width="1.3"/>
<text transform="translate(1165.70 1900.00) rotate(-90) scale(1 1.04)">2010</text>
<line x1="1208.50" y1="1818.90" x2="1208.50" y2="1828.30" stroke="#2b2b2b" stroke-width="1.3"/>
<text transform="translate(1218.20 1900.00) rotate(-90) scale(1 1.04)">2015</text>
<line x1="1260.80" y1="1818.90" x2="1260.80" y2="1828.30" stroke="#2b2b2b" stroke-width="1.3"/>
<text transform="translate(1270.50 1900.00) rotate(-90) scale(1 1.04)">2020</text>
<line x1="1313.40" y1="1818.90" x2="1313.40" y2="1828.30" stroke="#2b2b2b" stroke-width="1.3"/>
<text transform="translate(1323.10 1900.00) rotate(-90) scale(1 1.04)">2025</text>
<line x1="1365.80" y1="1818.90" x2="1365.80" y2="1828.30" stroke="#2b2b2b" stroke-width="1.3"/>
<text transform="translate(1375.50 1900.00) rotate(-90) scale(1 1.04)">2030</text>
<line x1="1418.30" y1="1818.90" x2="1418.30" y2="1828.30" stroke="#2b2b2b" stroke-width="1.3"/>
<text transform="translate(1428.00 1900.00) rotate(-90) scale(1 1.04)">2035</text>
<line x1="1470.80" y1="1818.90" x2="1470.80" y2="1828.30" stroke="#2b2b2b" stroke-width="1.3"/>
<text transform="translate(1480.50 1900.00) rotate(-90) scale(1 1.04)">2040</text>
<line x1="1523.30" y1="1818.90" x2="1523.30" y2="1828.30" stroke="#2b2b2b" stroke-width="1.3"/>
<text transform="translate(1533.00 1900.00) rotate(-90) scale(1 1.04)">2045</text>
<line x1="1575.80" y1="1818.90" x2="1575.80" y2="1828.30" stroke="#2b2b2b" stroke-width="1.3"/>
<text transform="translate(1585.50 1900.00) rotate(-90) scale(1 1.04)">2050</text>
<text transform="translate(1390.80 1940.00) scale(1 1.025)" text-anchor="middle">Year</text>
<line x1="160.70" y1="1305.35" x2="160.70" y2="1819.55" stroke="#2b2b2b" stroke-width="1.3"/>
<line x1="160.05" y1="1818.90" x2="1599.30" y2="1818.90" stroke="rgba(30,30,30,0.8)" stroke-width="1.4"/>
<line x1="151.00" y1="1386.30" x2="160.70" y2="1386.30" stroke="#2b2b2b" stroke-width="1.3"/>
<text transform="translate(140.00 1395.40) scale(1 1.04)" text-anchor="end">800</text>
<line x1="151.00" y1="1491.80" x2="160.70" y2="1491.80" stroke="#2b2b2b" stroke-width="1.3"/>
<text transform="translate(140.00 1500.90) scale(1 1.04)" text-anchor="end">600</text>
<line x1="151.00" y1="1597.30" x2="160.70" y2="1597.30" stroke="#2b2b2b" stroke-width="1.3"/>
<text transform="translate(140.00 1606.40) scale(1 1.04)" text-anchor="end">400</text>
<line x1="151.00" y1="1702.90" x2="160.70" y2="1702.90" stroke="#2b2b2b" stroke-width="1.3"/>
<text transform="translate(140.00 1712.00) scale(1 1.04)" text-anchor="end">200</text>
<line x1="151.00" y1="1808.40" x2="160.70" y2="1808.40" stroke="#2b2b2b" stroke-width="1.3"/>
<text transform="translate(140.00 1817.50) scale(1 1.04)" text-anchor="end">0</text>
<rect x="1620.00" y="1299.90" width="41.80" height="41.60" fill="#5B0E57"/>
<text transform="translate(1672.20 1330.95) scale(1 1.025)">Imports</text>
<rect x="1620.00" y="1351.80" width="41.80" height="41.60" fill="#8A4A8C"/>
<text transform="translate(1672.20 1382.67) scale(1 1.025)">CHP</text>
<rect x="1620.00" y="1403.70" width="41.80" height="41.60" fill="#A68BBA"/>
<text transform="translate(1672.20 1434.39) scale(1 1.025)">Geothermal</text>
<rect x="1620.00" y="1455.60" width="41.80" height="41.60" fill="#C7B3D9"/>
<text transform="translate(1672.20 1486.11) scale(1 1.025)">Hydro</text>
<rect x="1620.00" y="1507.50" width="41.80" height="41.60" fill="#EBE0F1"/>
<text transform="translate(1672.20 1537.83) scale(1 1.025)">Solar PV</text>
<rect x="1620.00" y="1559.40" width="41.80" height="41.60" fill="#E2EFE3"/>
<text transform="translate(1672.20 1589.55) scale(1 1.025)">Tidal</text>
<rect x="1620.00" y="1611.30" width="41.80" height="41.60" fill="#B5D9BA"/>
<text transform="translate(1672.20 1641.27) scale(1 1.025)">Wave</text>
<rect x="1620.00" y="1663.20" width="41.80" height="41.60" fill="#60B27B"/>
<text transform="translate(1672.20 1692.99) scale(1 1.025)">Offshore wind</text>
<rect x="1620.00" y="1715.10" width="41.80" height="41.60" fill="#008B47"/>
<text transform="translate(1672.20 1744.71) scale(1 1.025)">Onshore wind</text>
<rect x="1620.00" y="1767.00" width="41.80" height="41.60" fill="#006837"/>
<text transform="translate(1672.20 1796.43) scale(1 1.025)">Nuclear</text>
<rect x="1869.30" y="1299.90" width="41.60" height="41.60" fill="#9E005D"/>
<text transform="translate(1921.40 1331.90) scale(1 1.025)">H<tspan style="font-size:18.5px" dx="-0.4" dy="8.6">2</tspan><tspan dy="-8.6"></tspan></text>
<rect x="1869.30" y="1351.80" width="41.60" height="41.60" fill="#C7317C"/>
<text transform="translate(1921.40 1383.65) scale(1 1.025)">BECCS</text>
<rect x="1869.30" y="1403.70" width="41.60" height="41.60" fill="#DE92B6"/>
<text transform="translate(1921.40 1435.40) scale(1 1.025)">Bioenergy</text>
<rect x="1869.30" y="1455.60" width="41.60" height="41.60" fill="#F3CBE2"/>
<text transform="translate(1921.40 1487.15) scale(1 1.025)">Oil CCS</text>
<rect x="1869.30" y="1507.50" width="41.60" height="41.60" fill="#F9E9F2"/>
<text transform="translate(1921.40 1538.90) scale(1 1.025)">Oil</text>
<rect x="1869.30" y="1559.40" width="41.60" height="41.60" fill="#D2E9F0"/>
<text transform="translate(1921.40 1590.65) scale(1 1.025)">Gas CCS</text>
<rect x="1869.30" y="1611.30" width="41.60" height="41.60" fill="#8ACDD6"/>
<text transform="translate(1921.40 1642.40) scale(1 1.025)">Gas CCS (Retr.)</text>
<rect x="1869.30" y="1663.20" width="41.60" height="41.60" fill="#04A0AD"/>
<text transform="translate(1921.40 1694.15) scale(1 1.025)">Gas</text>
<rect x="1869.30" y="1715.10" width="41.60" height="41.60" fill="#047D83"/>
<text transform="translate(1921.40 1745.90) scale(1 1.025)">Man. fuels</text>
<rect x="1869.30" y="1767.00" width="41.60" height="41.60" fill="#02615C"/>
<text transform="translate(1921.40 1797.65) scale(1 1.025)">Coal</text>
</svg>
</body>
</html>
